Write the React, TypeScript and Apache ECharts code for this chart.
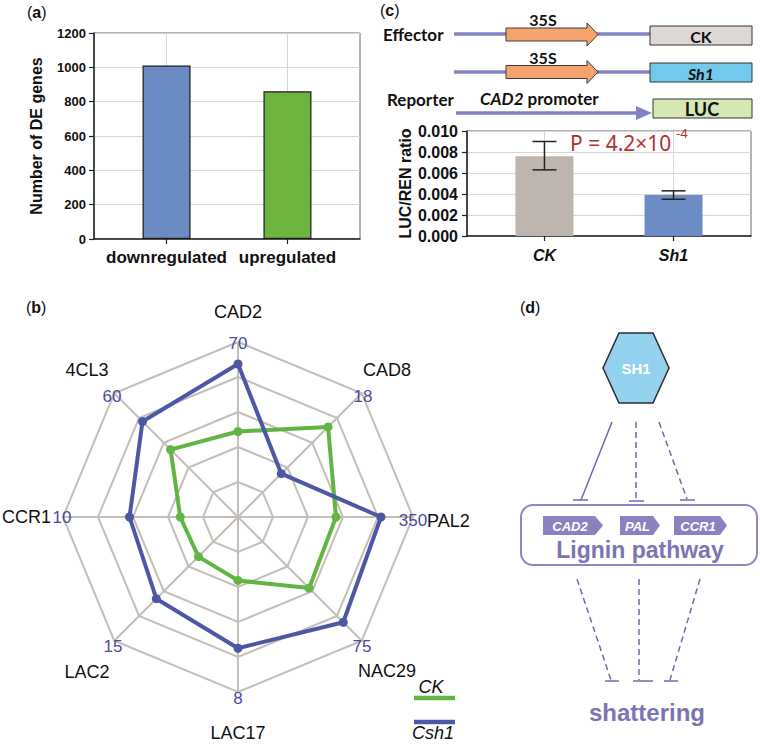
import React, { useEffect, useRef } from 'react';
import * as echarts from 'echarts';

// ---------- data ----------
const deCategories = ['downregulated', 'upregulated'];
const deCounts = [1010, 860];
const deColors = ['#6b8bc3', '#6db33f'];

const lucCategories = ['CK', 'Sh1'];
const lucMeans = [0.0076, 0.0039];
const lucErrLow = [0.0063, 0.0035];
const lucErrHigh = [0.009, 0.0043];
const lucColors = ['#bdb5ae', '#6b8cc5'];

// radar indicators in ECharts order (counter-clockwise from top)
const radarIndicators = ['CAD2', '4CL3', 'CCR1', 'LAC2', 'LAC17', 'NAC29', 'PAL2', 'CAD8'];
const radarMax = [70, 60, 10, 15, 8, 75, 350, 18];
const ckValues = [34.2, 32.7, 3.3, 4.8, 2.9, 43.1, 196, 13.1];
const csh1Values = [61.2, 46.3, 6.2, 9.9, 6.0, 63.8, 286, 6.3];

// ---------- layout ----------
const ARIAL = '"Liberation Sans", Arial, sans-serif';
const CAL = 'Lato, "Liberation Sans", sans-serif';
const RC = [238, 517];
const RR = 175;
// name label positions [x, y, align]
const nameLayout: [number, number, string][] = [
  [238, 312, 'center'],
  [87, 370, 'center'],
  [51, 517, 'right'],
  [87, 672, 'center'],
  [238, 733, 'center'],
  [387, 671, 'center'],
  [427, 521, 'left'],
  [387, 370, 'center'],
];
const maxLayout: [number, number][] = [
  [238, 343], [112, 396], [62, 517], [113, 646], [238, 698], [362, 646], [413, 520], [363, 396],
];

const txt = (text: string, x: number, y: number, o: any = {}) => ({
  type: 'text',
  z: 100,
  style: {
    text,
    x,
    y,
    fill: o.fill || '#111',
    fontSize: o.fontSize || 16,
    fontWeight: o.fontWeight || 'normal',
    fontStyle: o.fontStyle || 'normal',
    fontFamily: o.fontFamily || ARIAL,
    align: o.align || 'center',
    verticalAlign: o.verticalAlign || 'middle',
    textAlign: o.align || 'center',
    textVerticalAlign: o.verticalAlign || 'middle',
    rich: o.rich,
  },
});

const panelLabel = (letter: string, x: number, y: number) => {
  const base = { fontSize: 16, fontFamily: ARIAL, fill: '#111' };
  return txt(`{n|(}{b|${letter}}{n|)}`, x, y, {
    align: 'left',
    rich: {
      n: { ...base, fontWeight: 'normal' },
      b: { ...base, fontWeight: 'bold' },
    },
  });
};

const line = (x1: number, y1: number, x2: number, y2: number, stroke: string, lw: number, dash?: number[]) => ({
  type: 'line',
  z: 50,
  shape: { x1, y1, x2, y2 },
  style: { stroke, lineWidth: lw, lineDash: dash || null },
});

const LINE_C = '#8383c2';
const ORANGE = '#f4a46c';
const D_C = '#6e6aa8';
const D_TXT = '#7c74b2';

function buildGraphics() {
  const g: any[] = [];
  // panel labels
  g.push(panelLabel('a', 27, 12));
  g.push(panelLabel('b', 26, 307));
  g.push(panelLabel('c', 380, 10));
  g.push(panelLabel('d', 520, 307));

  // ---- panel c schematic ----
  g.push(line(454, 34, 650, 34, LINE_C, 3.5));
  g.push(line(454, 72, 650, 72, LINE_C, 3.5));
  const arrow = (cy: number) => ({
    type: 'polygon',
    z: 60,
    shape: {
      points: [
        [506, cy - 6.5], [587, cy - 6.5], [587, cy - 11.5], [598, cy], [587, cy + 11.5], [587, cy + 6.5], [506, cy + 6.5],
      ],
    },
    style: { fill: ORANGE, stroke: '#3a3a3a', lineWidth: 1 },
  });
  g.push(arrow(34.5));
  g.push(arrow(72));
  g.push(line(456, 113, 640, 113, LINE_C, 3.5));
  g.push({
    type: 'polygon', z: 60,
    shape: { points: [[636, 106], [652, 113], [636, 120]] },
    style: { fill: LINE_C },
  });
  const box = (x: number, y: number, w: number, h: number, fill: string) => ({
    type: 'rect', z: 60, shape: { x, y, width: w, height: h }, style: { fill, stroke: '#333', lineWidth: 1 },
  });
  g.push(box(650, 26, 102, 19, '#ddd8d4'));
  g.push(box(650, 63, 102, 19, '#72c9ec'));
  g.push(box(653, 99, 99, 19, '#d5e8b4'));
  g.push(txt('Effector', 383, 34, { align: 'left', fontSize: 17, fontWeight: 'bold', fontFamily: CAL }));
  g.push(txt('Reporter', 387, 99, { align: 'left', fontSize: 17, fontWeight: 'bold', fontFamily: CAL }));
  const rb = { fontSize: 17, fontWeight: 'bold', fontFamily: CAL, fill: '#111' };
  g.push(txt('{i|CAD2}{n| promoter}', 480, 98, {
    align: 'left',
    rich: { i: { ...rb, fontStyle: 'italic' }, n: { ...rb } },
  }));
  g.push(txt('35S', 543, 19, { fontSize: 16, fontWeight: 'bold', fontFamily: CAL }));
  g.push(txt('35S', 543, 57, { fontSize: 16, fontWeight: 'bold', fontFamily: CAL }));
  g.push(txt('CK', 701, 36, { fontSize: 16, fontWeight: 'bold', fontFamily: CAL }));
  g.push(txt('Sh1', 701, 73, { fontSize: 16, fontWeight: 'bold', fontStyle: 'italic', fontFamily: CAL }));
  g.push(txt('LUC', 702, 109, { fontSize: 18, fontWeight: 'bold', fontFamily: CAL }));
  // P value
  g.push(txt('P = 4.2×10', 570, 143, { align: 'left', fontSize: 21, fill: '#b5312f', fontFamily: '"Noto Sans", sans-serif' }));
  g.push(txt('-4', 676, 133, { align: 'left', fontSize: 13, fill: '#b5312f', fontFamily: '"Noto Sans", sans-serif' }));

  // ---- panel b labels ----
  radarIndicators.forEach((n, i) => {
    const [x, y, al] = nameLayout[i];
    g.push(txt(n, x, y, { align: al, fontSize: 18, fill: '#111' }));
    const [mx, my] = maxLayout[i];
    g.push(txt(String(radarMax[i]), mx, my, { fontSize: 17, fill: '#4b4b9b' }));
  });
  // legend
  g.push(txt('CK', 431, 687, { fontSize: 18, fontStyle: 'italic' }));
  g.push(line(414, 698, 455, 698, '#62b543', 4.5));
  g.push(line(414, 722, 455, 722, '#4d57a3', 4.5));
  g.push(txt('Csh1', 433, 733, { fontSize: 18, fontStyle: 'italic' }));

  // ---- panel d ----
  g.push({
    type: 'polygon', z: 60,
    shape: { points: [[619, 333], [653, 333], [669, 368], [653, 403], [619, 403], [603, 368]] },
    style: { fill: '#93d1ee', stroke: '#2b2b2b', lineWidth: 1.5 },
  });
  g.push(txt('SH1', 636, 368, { fontSize: 15, fontWeight: 'bold', fill: '#ffffff' }));
  const dash = [6, 4];
  g.push(line(612, 422, 581, 500, D_C, 1.5));
  g.push(line(573, 500, 588, 500, D_C, 1.5));
  g.push(line(636, 422, 636, 500, D_C, 1.5, dash));
  g.push(line(629, 501, 644, 501, D_C, 1.5));
  g.push(line(659, 422, 687, 499, D_C, 1.5, dash));
  g.push(line(680, 500, 695, 500, D_C, 1.5));
  g.push({
    type: 'rect', z: 55,
    shape: { x: 521, y: 505, width: 236, height: 60, r: 12 },
    style: { fill: '#fff', stroke: '#8d87c2', lineWidth: 2 },
  });
  const tag = (x0: number, x1: number, tip: number, label: string) => {
    g.push({
      type: 'polygon', z: 60,
      shape: { points: [[x0, 516], [x1, 516], [tip, 525.5], [x1, 535], [x0, 535]] },
      style: { fill: '#8b81c1' },
    });
    g.push(txt(label, (x0 + x1) / 2 + 1, 526, { fontSize: 13, fontWeight: 'bold', fontStyle: 'italic', fill: '#ffffff' }));
  };
  tag(543, 595, 603, 'CAD2');
  tag(620, 653, 660, 'PAL');
  tag(674, 720, 727, 'CCR1');
  g.push(txt('Lignin pathway', 640, 550, { fontSize: 23, fontWeight: 'bold', fill: D_TXT }));
  g.push(line(577, 579, 611, 680, D_C, 1.5, dash));
  g.push(line(605, 681, 619, 681, D_C, 1.5));
  g.push(line(639, 579, 639, 680, D_C, 1.5, dash));
  g.push(line(633, 681, 653, 681, D_C, 1.5));
  g.push(line(700, 579, 670, 680, D_C, 1.5, dash));
  g.push(line(664, 681, 678, 681, D_C, 1.5));
  g.push(txt('shattering', 647, 712, { fontSize: 24, fontWeight: 'bold', fill: D_TXT }));
  return g;
}

export default function App() {
  const ref = useRef<HTMLDivElement>(null);
  useEffect(() => {
    document.body.style.margin = '0';
    const chart = echarts.init(ref.current!, null, { renderer: 'svg' });
    const gridLine = { show: true, lineStyle: { color: '#d6d6d6', width: 1 } };
    const axisBlack = { show: true, onZero: false, lineStyle: { color: '#222', width: 1.5 } };
    chart.setOption({
      animation: false,
      backgroundColor: '#ffffff',
      grid: [
        { left: 94, top: 33, width: 266, height: 206, show: true, borderColor: '#666', borderWidth: 1, backgroundColor: 'transparent' },
        { left: 467, top: 131, width: 284, height: 105, show: true, borderColor: '#666', borderWidth: 1, backgroundColor: 'transparent' },
      ],
      xAxis: [
        {
          gridIndex: 0, type: 'value', min: -0.6, max: 1.6,
          axisLine: axisBlack,
          axisTick: { show: true, customValues: [0, 1], length: 5, lineStyle: { color: '#222', width: 1.2 } },
          axisLabel: {
            customValues: [0, 1], formatter: (v: number) => deCategories[Math.round(v)] || '',
            fontWeight: 'bold', fontSize: 17, color: '#111', margin: 10, fontFamily: ARIAL,
          },
          splitLine: gridLine,
        },
        {
          gridIndex: 1, type: 'value', min: -0.6, max: 1.6,
          axisLine: axisBlack,
          axisTick: { show: true, customValues: [0, 1], length: 5, lineStyle: { color: '#222', width: 1.2 } },
          axisLabel: {
            customValues: [0, 1], formatter: (v: number) => lucCategories[Math.round(v)] || '',
            fontWeight: 'bold', fontStyle: 'italic', fontSize: 16, color: '#111', margin: 11, fontFamily: ARIAL,
          },
          splitLine: gridLine,
        },
      ],
      yAxis: [
        {
          gridIndex: 0, type: 'value', min: 0, max: 1200, interval: 200,
          axisLine: axisBlack,
          axisTick: { show: true, length: 5, lineStyle: { color: '#222', width: 1.2 } },
          axisLabel: {
            fontWeight: 'bold', fontSize: 13, color: '#111', margin: 8, fontFamily: ARIAL,
            formatter: (v: number) => String(v),
          },
          splitLine: gridLine,
          name: 'Number of DE genes', nameLocation: 'middle', nameGap: 50,
          nameTextStyle: { fontWeight: 'bold', fontSize: 16, color: '#111', fontFamily: ARIAL },
        },
        {
          gridIndex: 1, type: 'value', min: 0, max: 0.01, interval: 0.002,
          axisLine: axisBlack,
          axisTick: { show: true, length: 5, lineStyle: { color: '#222', width: 1.2 } },
          axisLabel: {
            fontWeight: 'bold', fontSize: 16, color: '#111', margin: 9, fontFamily: ARIAL,
            formatter: (v: number) => v.toFixed(3),
          },
          splitLine: gridLine,
          name: 'LUC/REN ratio', nameLocation: 'middle', nameGap: 54,
          nameTextStyle: { fontWeight: 'bold', fontSize: 16, color: '#111', fontFamily: ARIAL },
        },
      ],
      radar: {
        center: RC, radius: RR, startAngle: 90, shape: 'polygon', splitNumber: 5,
        indicator: radarIndicators.map((n, i) => ({ name: n, min: 0, max: radarMax[i] })),
        axisName: { show: false },
        splitLine: { lineStyle: { color: '#c4beb8', width: 2 } },
        splitArea: { show: false },
        axisLine: { lineStyle: { color: '#c4beb8', width: 2 } },
        axisTick: { show: false },
        axisLabel: { show: false },
      },
      series: [
        {
          type: 'bar', xAxisIndex: 0, yAxisIndex: 0, barWidth: 48,
          data: deCounts.map((v, i) => ({ value: [i, v], itemStyle: { color: deColors[i] } })),
          itemStyle: { borderColor: '#1a1a1a', borderWidth: 1.2 },
        },
        {
          type: 'bar', xAxisIndex: 1, yAxisIndex: 1, barWidth: 58,
          data: lucMeans.map((v, i) => ({ value: [i, v], itemStyle: { color: lucColors[i] } })),
        },
        {
          type: 'custom', xAxisIndex: 1, yAxisIndex: 1, z: 10,
          encode: { x: 0, y: [1, 2] },
          data: lucCategories.map((c, i) => [i, lucErrLow[i], lucErrHigh[i]]),
          renderItem: (params: any, api: any) => {
            const x = api.value(0);
            const lo = api.coord([x, api.value(1)]);
            const hi = api.coord([x, api.value(2)]);
            const hw = 12;
            const st = { stroke: '#222', lineWidth: 1.5 };
            return {
              type: 'group',
              children: [
                { type: 'line', shape: { x1: lo[0], y1: lo[1], x2: hi[0], y2: hi[1] }, style: st },
                { type: 'line', shape: { x1: lo[0] - hw, y1: lo[1], x2: lo[0] + hw, y2: lo[1] }, style: st },
                { type: 'line', shape: { x1: hi[0] - hw, y1: hi[1], x2: hi[0] + hw, y2: hi[1] }, style: st },
              ],
            };
          },
        },
        {
          type: 'radar',
          symbol: 'circle', symbolSize: 9,
          data: [
            { name: 'CK', value: ckValues, lineStyle: { color: '#62b543', width: 4 }, itemStyle: { color: '#62b543' } },
            { name: 'Csh1', value: csh1Values, lineStyle: { color: '#4d57a3', width: 4 }, itemStyle: { color: '#4d57a3' } },
          ],
        },
      ],
      graphic: buildGraphics(),
    });
    return () => chart.dispose();
  }, []);
  return <div ref={ref} style={{ position: 'absolute', left: 0, top: 0, width: 760, height: 744 }} />;
}
